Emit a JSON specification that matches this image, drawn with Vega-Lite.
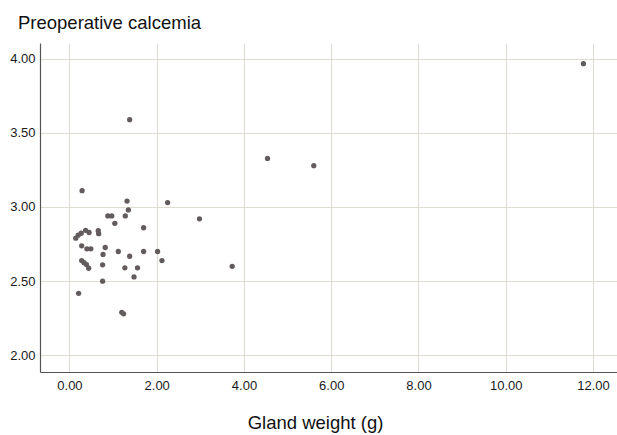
{
  "$schema": "https://vega.github.io/schema/vega-lite/v6.json",
  "autosize": "none",
  "width": 577,
  "height": 329,
  "padding": {"left": 40, "top": 43, "right": 0, "bottom": 63},
  "background": "white",
  "config": {
    "font": "Liberation Sans",
    "view": {"stroke": null}
  },
  "title": {
    "text": "Preoperative calcemia",
    "anchor": "start",
    "frame": "group",
    "dx": -22,
    "dy": 19,
    "offset": 15,
    "baseline": "alphabetic",
    "fontSize": 18.5,
    "fontWeight": "normal",
    "color": "#111111",
    "font": "Liberation Sans"
  },
  "data": {
    "values": [
      {"weight": 0.29, "calcemia": 3.11},
      {"weight": 1.32, "calcemia": 3.04},
      {"weight": 2.25, "calcemia": 3.03},
      {"weight": 1.35, "calcemia": 2.98},
      {"weight": 0.88, "calcemia": 2.94},
      {"weight": 0.97, "calcemia": 2.94},
      {"weight": 1.28, "calcemia": 2.94},
      {"weight": 1.04, "calcemia": 2.89},
      {"weight": 2.98, "calcemia": 2.92},
      {"weight": 1.70, "calcemia": 2.86},
      {"weight": 0.145, "calcemia": 2.79},
      {"weight": 0.20, "calcemia": 2.81},
      {"weight": 0.27, "calcemia": 2.823},
      {"weight": 0.37, "calcemia": 2.843},
      {"weight": 0.45, "calcemia": 2.828},
      {"weight": 0.66, "calcemia": 2.84},
      {"weight": 0.67, "calcemia": 2.82},
      {"weight": 0.28, "calcemia": 2.738},
      {"weight": 0.40, "calcemia": 2.718},
      {"weight": 0.49, "calcemia": 2.718},
      {"weight": 0.82, "calcemia": 2.727},
      {"weight": 0.77, "calcemia": 2.68},
      {"weight": 1.12, "calcemia": 2.70},
      {"weight": 1.38, "calcemia": 2.668},
      {"weight": 1.70, "calcemia": 2.70},
      {"weight": 2.02, "calcemia": 2.70},
      {"weight": 2.12, "calcemia": 2.639},
      {"weight": 0.28, "calcemia": 2.639},
      {"weight": 0.335, "calcemia": 2.625},
      {"weight": 0.39, "calcemia": 2.612},
      {"weight": 0.44, "calcemia": 2.587},
      {"weight": 0.76, "calcemia": 2.61},
      {"weight": 1.27, "calcemia": 2.59},
      {"weight": 1.56, "calcemia": 2.59},
      {"weight": 1.48, "calcemia": 2.529},
      {"weight": 0.76, "calcemia": 2.50},
      {"weight": 0.21, "calcemia": 2.418},
      {"weight": 1.20, "calcemia": 2.29},
      {"weight": 1.24, "calcemia": 2.28},
      {"weight": 1.38, "calcemia": 3.588},
      {"weight": 4.54, "calcemia": 3.327},
      {"weight": 5.60, "calcemia": 3.278},
      {"weight": 3.73, "calcemia": 2.60},
      {"weight": 11.78, "calcemia": 3.966}
    ]
  },
  "mark": {"type": "circle", "size": 28, "color": "#625c5c", "opacity": 1},
  "encoding": {
    "x": {
      "field": "weight",
      "type": "quantitative",
      "scale": {"domain": [-0.675, 12.55], "nice": false, "zero": false},
      "axis": {
        "title": "Gland weight (g)",
        "values": [0, 2, 4, 6, 8, 10, 12],
        "format": ".2f",
        "grid": true,
        "gridColor": "#dedbd3",
        "gridWidth": 1,
        "gridOpacity": 1,
        "domain": true,
        "domainColor": "#555555",
        "domainWidth": 1.2,
        "ticks": false,
        "labelFontSize": 13,
        "labelColor": "#1a1a1a",
        "labelPadding": 7,
        "labelFont": "Liberation Sans",
        "titleFont": "Liberation Sans",
        "titleFontSize": 18.5,
        "titleFontWeight": "normal",
        "titleColor": "#111111",
        "titleX": 275,
        "titleY": 56.5,
        "titleAlign": "center",
        "titleBaseline": "alphabetic"
      }
    },
    "y": {
      "field": "calcemia",
      "type": "quantitative",
      "scale": {"domain": [1.888, 4.105], "nice": false, "zero": false},
      "axis": {
        "title": null,
        "values": [2.0, 2.5, 3.0, 3.5, 4.0],
        "format": ".2f",
        "grid": true,
        "gridColor": "#dedbd3",
        "gridWidth": 1,
        "gridOpacity": 1,
        "domain": true,
        "domainColor": "#555555",
        "domainWidth": 1.2,
        "ticks": false,
        "labelFontSize": 13,
        "labelColor": "#1a1a1a",
        "labelPadding": 5,
        "labelFont": "Liberation Sans"
      }
    }
  }
}
